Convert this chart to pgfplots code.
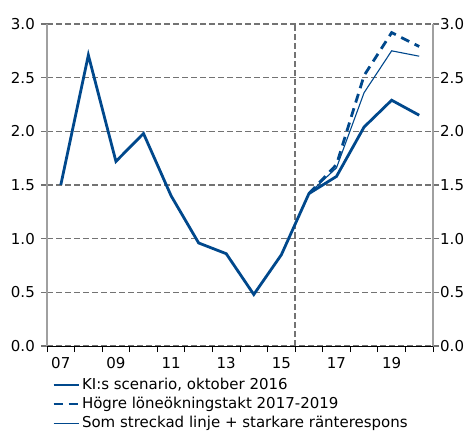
\documentclass[border=0pt]{standalone}
\usepackage{fontspec}
\setmainfont{DejaVu Sans}
\usepackage{pgfplots}
\pgfplotsset{compat=1.18}
\definecolor{kiblue}{RGB}{0,72,140}
\definecolor{gridgray}{RGB}{115,115,115}
\definecolor{axgray}{RGB}{160,160,160}
\begin{document}
\fontsize{15bp}{18bp}\selectfont
\begin{tikzpicture}
\begin{axis}[
  name=main,
  scale only axis, width=386bp, height=322bp,
  xmin=0, xmax=14, ymin=0, ymax=3,
  axis x line*=bottom, axis y line*=left,
  x axis line style={-, black, line width=1bp},
  y axis line style={-, axgray, line width=1.3bp},
  tick align=outside, major tick length=6bp,
  xtick={0,...,14}, xticklabels={},
  x tick style={black, line width=1bp},
  extra x ticks={0.5,2.5,4.5,6.5,8.5,10.5,12.5},
  extra x tick labels={07,09,11,13,15,17,19},
  extra x tick style={tick style={draw=none}, grid=none},
  ytick={0,0.5,1,1.5,2,2.5,3},
  yticklabels={0.0,0.5,1.0,1.5,2.0,2.5,3.0},
  y tick style={gridgray, line width=1.3bp},
  ymajorgrids, grid style={gridgray, line width=1.5bp, dash pattern=on 6bp off 3bp},
  tick label style={font=\fontsize{15bp}{18bp}\selectfont},
  /pgf/number format/assume math mode=true,
  y tick label style={xshift=-1bp},
  legend style={draw=none, fill=none, at={(0.013,-0.093)}, anchor=north west,
    inner sep=0pt, row sep=1.5bp, font=\fontsize{15bp}{18bp}\selectfont,
    cells={anchor=west}},
  legend cell align=left,
  legend image code/.code={\draw[#1] (0bp,0bp) -- (25bp,0bp);},
  clip=false,
]
\addplot[gridgray, line width=1.5bp, dash pattern=on 6bp off 3bp, forget plot] coordinates {(9,0)(9,3)};
\addplot[kiblue, line width=2.8bp] coordinates {
(0.5,1.50)(1.5,2.71)(2.5,1.72)(3.5,1.98)(4.5,1.40)(5.5,0.96)(6.5,0.86)
(7.5,0.48)(8.5,0.85)(9.5,1.42)(10.5,1.58)(11.5,2.04)(12.5,2.29)(13.5,2.15)};
\addlegendentry{KI:s scenario, oktober 2016}
\addplot[kiblue, line width=2.8bp, dash pattern=on 9bp off 6bp] coordinates {
(9.5,1.42)(10.5,1.69)(11.5,2.52)(12.5,2.92)(13.5,2.79)};
\addlegendentry{Högre löneökningstakt 2017-2019}
\addplot[kiblue, line width=1.1bp] coordinates {
(9.5,1.42)(10.5,1.66)(11.5,2.36)(12.5,2.75)(13.5,2.70)};
\addlegendentry{Som streckad linje + starkare ränterespons}
\end{axis}
\begin{axis}[
  scale only axis, width=386bp, height=322bp,
  xmin=0, xmax=14, ymin=0, ymax=3,
  axis x line=none, axis y line*=right,
  y axis line style={-, axgray, line width=1.3bp},
  tick align=outside, major tick length=6bp,
  ytick={0,0.5,1,1.5,2,2.5,3},
  yticklabels={0.0,0.5,1.0,1.5,2.0,2.5,3.0},
  y tick style={gridgray, line width=1.3bp},
  tick label style={font=\fontsize{15bp}{18bp}\selectfont},
  /pgf/number format/assume math mode=true,
  y tick label style={xshift=-4bp},
]
\end{axis}
\pgfresetboundingbox
\path (main.south west) ++(-47bp,-85bp) rectangle ++(471bp,431bp);
\end{tikzpicture}
\end{document}
